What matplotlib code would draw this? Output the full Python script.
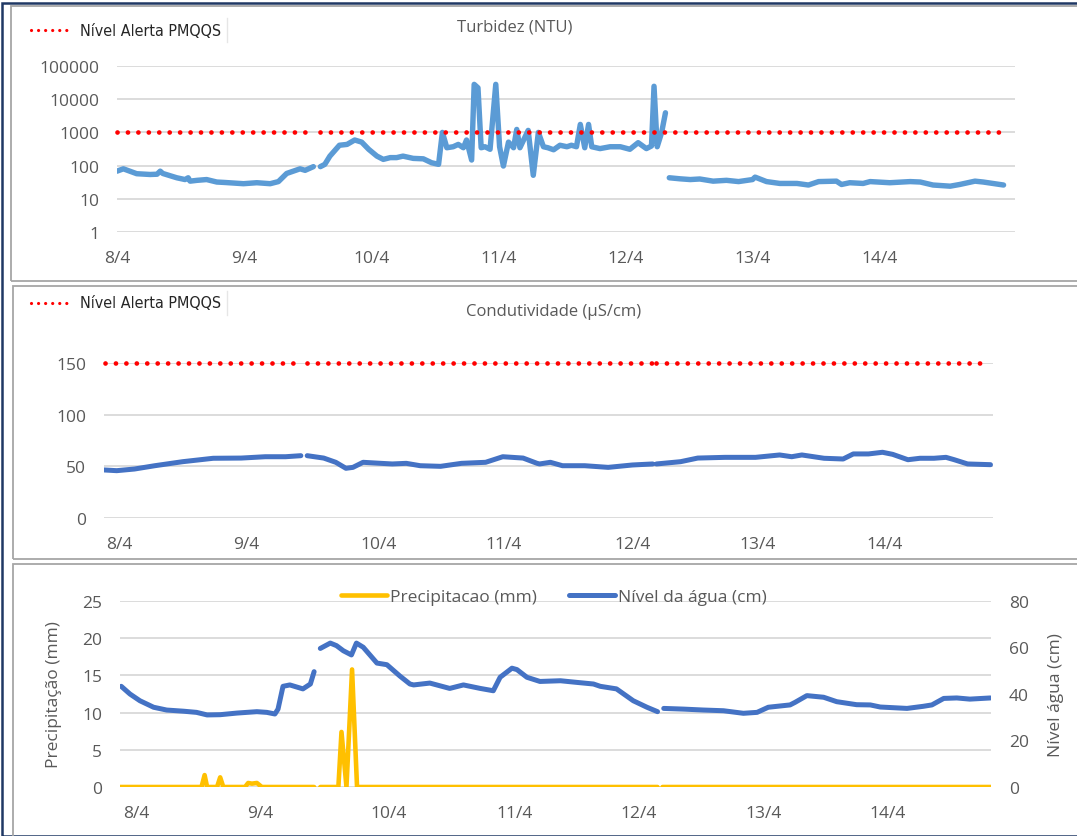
import numpy as np
import matplotlib
matplotlib.use('Agg')
import matplotlib.pyplot as plt
from matplotlib.lines import Line2D
from matplotlib.patches import Rectangle

plt.rcParams['font.family'] = ['Open Sans', 'DejaVu Sans']

W, H = 1077, 837

# dias desde 8/4 00:00
day_labels = ['8/4', '9/4', '10/4', '11/4', '12/4', '13/4', '14/4']
nan = np.nan
alerta_turb = 1000
alerta_cond = 150

# Turbidez (NTU)
turb_t = [0.00, 0.05, 0.155, 0.26, 0.315, 0.34, 0.36, 0.47, 0.535, 0.56, 0.575, 0.63,
          0.705, 0.785, 0.85, 0.995, 1.10, 1.205, 1.27, 1.335, 1.44, 1.48, 1.545, 1.57,
          1.60, 1.635, 1.675, 1.75, 1.81, 1.87, 1.925, 1.98, 2.045, 2.095, 2.15, 2.20,
          2.25, 2.33, 2.41, 2.475, 2.53, 2.56, 2.595, 2.645, 2.685, 2.725, 2.75, 2.79,
          2.81, 2.84, 2.865, 2.895, 2.935, 2.98, 3.01, 3.04, 3.08, 3.12, 3.145, 3.17,
          3.235, 3.275, 3.315, 3.355, 3.39, 3.435, 3.485, 3.54, 3.575, 3.615, 3.645, 3.68,
          3.71, 3.735, 3.80, 3.88, 3.96, 4.035, 4.10, 4.165, 4.205, 4.225, 4.25, 4.285,
          4.315, 4.33, 4.345, 4.43, 4.51, 4.585, 4.69, 4.795, 4.89, 5.00, 5.02, 5.11,
          5.215, 5.35, 5.44, 5.52, 5.66, 5.70, 5.765, 5.87, 5.925, 6.08, 6.24, 6.32,
          6.42, 6.555, 6.63, 6.75, 6.815, 6.975]
turb_v = [68, 80, 57, 54, 55, 68, 58, 43, 38, 43, 34, 36,
          38, 32, 31, 28.5, 30.5, 28.5, 33, 58, 80, 72, 93, nan,
          93, 109, 193, 410, 435, 590, 510, 310, 193, 154, 174, 174,
          193, 165, 160, 122, 109, 1000, 345, 370, 435, 345, 590, 147,
          28000, 22000, 345, 370, 310, 28000, 370, 97, 510, 345, 1230, 345,
          1150, 51, 1000, 370, 345, 300, 410, 370, 410, 370, 1740, 345,
          1740, 370, 325, 370, 370, 310, 490, 325, 390, 24500, 370, 1000,
          3900, nan, 43, 40, 38, 39.5, 34, 36, 33, 38, 45, 33,
          29, 29, 26, 33, 34, 27, 30.5, 29, 33, 30.5, 33, 32,
          26, 24, 27, 34, 32, 26]

# Condutividade (uS/cm)
cond_t = [0.0, 0.10, 0.24, 0.40, 0.62, 0.86, 1.08, 1.27, 1.43, 1.55, 1.575,
          1.60, 1.73, 1.825, 1.905, 1.96, 2.04, 2.165, 2.27, 2.38, 2.49, 2.65,
          2.815, 3.005, 3.14, 3.30, 3.41, 3.43, 3.515, 3.61, 3.785, 3.97, 4.16,
          4.32, 4.335, 4.35, 4.54, 4.675, 4.89, 5.13, 5.32, 5.415, 5.495, 5.67,
          5.82, 5.90, 6.02, 6.13, 6.21, 6.33, 6.425, 6.535, 6.63, 6.695, 6.80, 6.98]
cond_v = [46.5, 45.8, 47.4, 50.6, 54.5, 57.8, 58, 59.3, 59.3, 60.3, nan,
          60.3, 58, 53.9, 48.1, 49, 53.9, 53, 52.3, 52.9, 50.6, 50,
          52.9, 53.9, 59.3, 58, 52.9, 52.3, 53.9, 50.6, 50.6, 49, 51.3,
          52.3, nan, 52.3, 54.5, 58, 58.7, 58.7, 61, 59.3, 61, 57.8,
          57.1, 62, 62, 63.6, 61.6, 56.4, 57.8, 57.8, 58.7, 56.4, 52.3, 51.6]

# Nivel da agua (cm)
nivel_t = [0.01, 0.08, 0.16, 0.27, 0.375, 0.51, 0.615, 0.70, 0.805, 0.94, 1.10,
           1.18, 1.245, 1.27, 1.31, 1.365, 1.47, 1.53, 1.56, 1.585,
           1.61, 1.69, 1.74, 1.795, 1.86, 1.90, 1.955, 2.065, 2.145, 2.25, 2.33,
           2.36, 2.49, 2.65, 2.76, 2.895, 3.00, 3.055, 3.15, 3.19, 3.27, 3.375,
           3.54, 3.67, 3.805, 3.86, 3.99, 4.125, 4.235, 4.32, 4.345,
           4.37, 4.53, 4.69, 4.85, 5.01, 5.12, 5.21, 5.385, 5.425, 5.52, 5.655,
           5.76, 5.92, 6.03, 6.11, 6.325, 6.455, 6.525, 6.62, 6.725, 6.83, 6.995]
nivel_v = [43.3, 40, 37.1, 34.3, 33.1, 32.6, 32.1, 31, 31.1, 31.8, 32.4,
           32.1, 31.4, 33.5, 43.3, 43.9, 42.2, 44.3, 49.6, nan,
           59.6, 61.9, 60.8, 58.6, 56.8, 61.9, 60.1, 53.3, 52.6, 47.7, 44.3,
           43.9, 44.7, 42.4, 43.9, 42.4, 41.4, 47.2, 51.1, 50.5, 47.2, 45.4,
           45.7, 45, 44.3, 43.3, 42.2, 37.1, 34.3, 32.4, nan,
           33.8, 33.5, 33.1, 32.8, 31.7, 32.1, 34.3, 35.3, 36.4, 39.3, 38.6,
           36.7, 35.4, 35.3, 34.4, 33.8, 34.7, 35.3, 38.1, 38.3, 37.8, 38.3]

# Precipitacao (mm)
prec_t = [0.0, 0.655, 0.68, 0.70, 0.78, 0.805, 0.83, 1.005, 1.03, 1.06, 1.10, 1.14,
          1.56, 1.585, 1.61, 1.755, 1.78, 1.82, 1.865, 1.905, 4.32, 4.34, 4.36, 7.0]
prec_v = [0, 0, 1.6, 0, 0, 1.3, 0, 0, 0.54, 0.45, 0.54, 0,
          0, nan, 0, 0, 7.4, 0, 15.8, 0, 0, nan, 0, 0]

GRID = '#D9D9D9'
TXT = '#595959'
RED = '#FF0000'


def px_axes(x0, y0, x1, y1):
    return fig.add_axes([x0 / W, 1 - y1 / H, (x1 - x0) / W, (y1 - y0) / H])


def style(ax):
    for s in ax.spines.values():
        s.set_visible(False)
    ax.tick_params(length=0, pad=13, labelsize=12.5, labelcolor=TXT)
    ax.yaxis.grid(True, color=GRID, lw=1.3)
    ax.set_axisbelow(True)


def dotted(ax, xs, y):
    for a, b in xs:
        ax.plot([a, b], [y, y], color=RED, lw=3.4, linestyle=(0, (0.01, 2.2)),
                dash_capstyle='round', clip_on=False, zorder=4)


fig = plt.figure(figsize=(W / 100, H / 100), dpi=100)

# molduras
fig.add_artist(Rectangle((2.5 / W, 0), 1.2, 1 - 4 / H, transform=fig.transFigure,
                         fill=False, ec='#1F3864', lw=1.8))
for (x0, y0, y1) in [(11, 7, 282), (13, 287, 560), (13, 565, 900)]:
    fig.add_artist(Rectangle((x0 / W, 1 - y1 / H), 1.2, (y1 - y0) / H,
                             transform=fig.transFigure, fill=False, ec='#A6A6A6', lw=1.3))

# ---- Turbidez
ax1 = px_axes(117, 67, 1015, 233)
style(ax1)
ax1.set_yscale('log')
ax1.set_ylim(1, 100000)
ax1.set_yticks([1, 10, 100, 1000, 10000, 100000])
ax1.set_yticklabels(['1', '10', '100', '1000', '10000', '100000'])
ax1.minorticks_off()
ax1.set_xlim(0, 7.065)
ax1.set_xticks(range(7))
ax1.set_xticklabels(day_labels)
ax1.plot(turb_t, turb_v, color='#5B9BD5', lw=3.9, solid_capstyle='round',
         solid_joinstyle='round', zorder=3)
dotted(ax1, [(0.0, 1.545), (1.60, 6.975)], alerta_turb)
fig.text(515 / W, 1 - 28 / H, 'Turbidez (NTU)', ha='center', va='center',
         fontsize=12, color=TXT)

# ---- Condutividade
ax2 = px_axes(104, 364, 993, 519)
style(ax2)
ax2.set_ylim(0, 150)
ax2.set_yticks([0, 50, 100, 150])
ax2.set_xlim(0, 7.0)
ax2.set_xticks([0.12, 1.12, 2.16, 3.15, 4.16, 5.15, 6.15])
ax2.set_xticklabels(day_labels)
ax2.plot(cond_t, cond_v, color='#4472C4', lw=3.6, solid_capstyle='round',
         solid_joinstyle='round', zorder=3)
dotted(ax2, [(0.01, 1.55), (1.60, 4.33), (4.345, 6.97)], alerta_cond)
fig.text(554 / W, 1 - 312 / H, 'Condutividade (µS/cm)', ha='center', va='center',
         fontsize=12, color=TXT)

# legendas de alerta
for yc in [31, 304]:
    fig.add_artist(Line2D([31 / W, 72 / W], [1 - yc / H, 1 - yc / H], color=RED, lw=2.3,
                          linestyle=(0, (0.01, 2.2)), dash_capstyle='round'))
    fig.text(80 / W, 1 - yc / H, 'Nível Alerta PMQQS', ha='left', va='center',
             fontsize=11.5, color='#262626', family=['DejaVu Sans'],
             fontstretch='condensed', fontweight='medium')
    fig.add_artist(Line2D([227 / W, 227 / W], [1 - (yc - 12) / H, 1 - (yc + 12) / H],
                          color='#E6E6E6', lw=1))

# ---- Precipitacao / Nivel
ax3 = px_axes(120, 602, 991, 788)
style(ax3)
ax3.set_ylim(0, 25)
ax3.set_yticks([0, 5, 10, 15, 20, 25])
ax3.set_xlim(0, 7.0)
ax3.set_xticks([0.13, 1.13, 2.16, 3.17, 4.17, 5.17, 6.17])
ax3.set_xticklabels(day_labels)
lp, = ax3.plot(prec_t, prec_v, color='#FFC000', lw=3.3, solid_capstyle='round',
               solid_joinstyle='round', label='Precipitacao (mm)', zorder=3)
ax3.set_ylabel('Precipitação (mm)', fontsize=12.5, color=TXT, labelpad=14)

ax3b = ax3.twinx()
for s in ax3b.spines.values():
    s.set_visible(False)
ax3b.tick_params(length=0, pad=13, labelsize=12.5, labelcolor=TXT)
ax3b.set_ylim(0, 80)
ax3b.set_yticks([0, 20, 40, 60, 80])
ln, = ax3b.plot(nivel_t, nivel_v, color='#4472C4', lw=3.6, solid_capstyle='round',
                solid_joinstyle='round', label='Nível da água (cm)', zorder=3)
ax3b.set_ylabel('Nível água (cm)', fontsize=12.5, color=TXT, labelpad=14)

fs = 12.5 * 100 / 72
ax3b.legend(handles=[lp, ln], loc='center left', bbox_to_anchor=(341 / W, 1 - 598 / H),
            bbox_transform=fig.transFigure, ncol=2, frameon=False, fontsize=12.5,
            labelcolor=TXT, handlelength=46 / fs, handletextpad=3 / fs,
            columnspacing=32 / fs, borderaxespad=0, borderpad=0)

fig.savefig('out.png', dpi=100)
